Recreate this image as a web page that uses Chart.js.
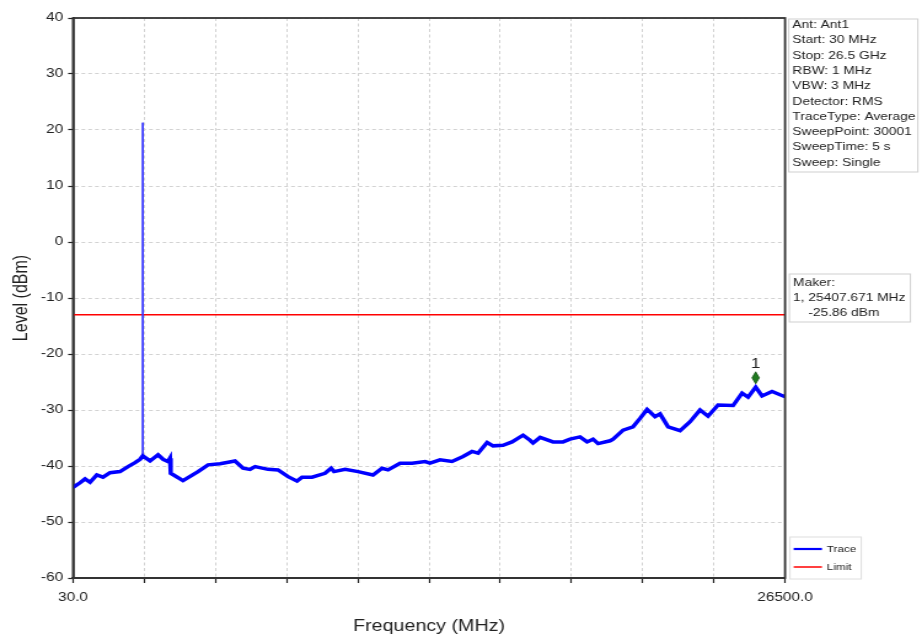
<!DOCTYPE html>
<html>
<head>
<meta charset="utf-8">
<script src="https://cdn.jsdelivr.net/npm/chart.js@4.4.1/dist/chart.umd.min.js"></script>
<style>
  html, body { margin: 0; padding: 0; background: #fff; }
  #chart { display: block; }
</style>
</head>
<body>
<canvas id="chart" width="750" height="636" style="width:922px;height:636px"></canvas>
<script>
// the reference is stretched sideways, so draw on a narrower canvas and let css widen it
const traceFreq = [30, 67, 290, 476, 662, 911, 1145, 1406, 1777, 2075, 2335, 2521, 2621, 2893, 3190, 3376, 3562, 3636, 3662,
  4119, 4677, 5049, 5495, 6053, 6350, 6610, 6796, 7280, 7651, 8023, 8358, 8544, 8915, 9399, 9622, 9733, 10142, 10625,
  11183, 11518, 11741, 12187, 12633, 13116, 13302, 13674, 14120, 14529, 14864, 15087, 15422, 15645, 16016, 16351, 16760,
  17020, 17131, 17392, 17875, 18247, 18507, 18879, 19139, 19362, 19548, 19994, 20106, 20477, 20849, 21110, 21370, 21667,
  21853, 22151, 22597, 22969, 23340, 23637, 24009, 24567, 24901, 25124, 25408, 25645, 26017, 26426, 26500]
const traceLevel = [-43.7, -43.7, -43.0, -42.3, -42.9, -41.6, -42.0, -41.2, -41.0, -40.1, -39.4, -38.8, -38.2, -39.1, -38.0, -38.8, -39.2, -38.6, -41.3,
  -42.6, -41.0, -39.8, -39.6, -39.1, -40.4, -40.6, -40.1, -40.6, -40.7, -41.9, -42.7, -42.0, -42.0, -41.3, -40.4, -41.0, -40.6, -41.0,
  -41.6, -40.4, -40.7, -39.5, -39.5, -39.2, -39.5, -38.9, -39.2, -38.3, -37.4, -37.7, -35.8, -36.4, -36.3, -35.7, -34.5,
  -35.4, -35.9, -34.9, -35.7, -35.7, -35.2, -34.8, -35.7, -35.2, -36.0, -35.5, -35.2, -33.6, -33.0, -31.5, -29.9, -31.2,
  -30.7, -33.0, -33.7, -32.1, -30.0, -31.1, -29.1, -29.2, -27.0, -27.7, -25.9, -27.5, -26.7, -27.5, -27.6]
const spikeFreq = [2615, 2621, 2627]
const spikeLevel = [-38.2, 21.3, -38.2]
const limitFreq = [30, 26500]
const limitLevel = [-13, -13]
const markerName = ['1']
const markerFreq = [25407.671]
const markerLevel = [-25.86]
const freqTicks = [30, 2677, 5324, 7971, 10618, 13265, 15912, 18559, 21206, 23853, 26500]
const infoLines = ['Ant: Ant1', 'Start: 30 MHz', 'Stop: 26.5 GHz', 'RBW: 1 MHz', 'VBW: 3 MHz', 'Detector: RMS',
  'TraceType: Average', 'SweepPoint: 30001', 'SweepTime: 5 s', 'Sweep: Single']
const makerLines = ['Maker:', '1, ' + markerFreq[0].toFixed(3) + ' MHz', '    ' + markerLevel[0].toFixed(2) + ' dBm']
const legendNames = ['Trace', 'Limit']
const legendColors = ['#0000ff', '#ff0000']

const FONT = '"Liberation Sans", Arial, sans-serif'
const pts = (xs, ys) => xs.map((x, i) => ({x: x, y: ys[i]}))

function textBox(ctx, left, top, w, h, lines, y0, step, size) {
  ctx.fillStyle = '#fff'
  ctx.fillRect(left, top, w, h)
  ctx.strokeStyle = '#cfcfcf'
  ctx.lineWidth = 1
  ctx.strokeRect(left, top, w, h)
  ctx.fillStyle = '#222'
  ctx.font = size + 'px ' + FONT
  ctx.textAlign = 'left'
  ctx.textBaseline = 'middle'
  lines.forEach((t, i) => ctx.fillText(t, left + 3, y0 + i * step))
}

const sidePanel = {
  id: 'sidePanel',
  afterDraw(chart) {
    const ctx = chart.ctx, a = chart.chartArea
    const xs = chart.scales.x, ys = chart.scales.y
    ctx.save()
    // frame round the plot
    ctx.strokeStyle = '#333'
    ctx.lineWidth = 1.8
    ctx.strokeRect(a.left, a.top, a.right - a.left, a.bottom - a.top)

    // marker diamond, sits a little above the point
    const mx = xs.getPixelForValue(markerFreq[0])
    const my = ys.getPixelForValue(markerLevel[0]) - 9
    ctx.beginPath()
    ctx.moveTo(mx, my - 6)
    ctx.lineTo(mx + 3, my)
    ctx.lineTo(mx, my + 6)
    ctx.lineTo(mx - 3, my)
    ctx.closePath()
    ctx.fillStyle = '#1f7a1f'
    ctx.fill()
    ctx.strokeStyle = '#145214'
    ctx.lineWidth = 0.8
    ctx.stroke()
    ctx.fillStyle = '#222'
    ctx.font = '14px ' + FONT
    ctx.textAlign = 'center'
    ctx.textBaseline = 'middle'
    ctx.fillText(markerName[0], mx, my - 14)

    // boxes on the right
    const bx = a.right + 3
    textBox(ctx, bx, 19, 105, 153, infoLines, 25, 15.3, 11.2)
    textBox(ctx, bx + 0.5, 274, 98.5, 48, makerLines, 283, 15, 11.2)

    // legend
    ctx.fillStyle = '#fff'
    ctx.fillRect(bx + 1, 537, 58, 42)
    ctx.strokeStyle = '#dedede'
    ctx.lineWidth = 1
    ctx.strokeRect(bx + 1, 537, 58, 42)
    ctx.font = '9.5px ' + FONT
    ctx.textAlign = 'left'
    legendNames.forEach((n, i) => {
      const ly = 549 + i * 18
      ctx.strokeStyle = legendColors[i]
      ctx.lineWidth = i === 0 ? 2.2 : 1.5
      ctx.beginPath()
      ctx.moveTo(bx + 4, ly)
      ctx.lineTo(bx + 27, ly)
      ctx.stroke()
      ctx.fillStyle = '#222'
      ctx.fillText(n, bx + 31, ly)
    })
    ctx.restore()
  }
}

const ctx = document.getElementById('chart').getContext('2d')
const chart = new Chart(ctx, {
  type: 'line',
  data: {
    datasets: [
      {label: 'Trace', data: pts(traceFreq, traceLevel), borderColor: '#0000ff', borderWidth: 3.5, pointRadius: 0, tension: 0},
      {label: 'Spike', data: pts(spikeFreq, spikeLevel), borderColor: '#3a3aff', borderWidth: 0.9, pointRadius: 0, tension: 0},
      {label: 'Limit', data: pts(limitFreq, limitLevel), borderColor: '#ff0000', borderWidth: 1.5, pointRadius: 0, tension: 0}
    ]
  },
  options: {
    responsive: false,
    animation: false,
    layout: {padding: {top: 18, right: 111.4, left: 0, bottom: 0}},
    plugins: {legend: {display: false}, tooltip: {enabled: false}},
    scales: {
      x: {
        type: 'linear',
        min: 30,
        max: 26500,
        afterBuildTicks: s => { s.ticks = freqTicks.map(v => ({value: v})) },
        afterFit: s => { s.height = 58 },
        ticks: {
          autoSkip: false,
          maxRotation: 0,
          padding: 7,
          color: '#222',
          font: {family: FONT, size: 12.5},
          callback: (v, i, t) => (i === 0 || i === t.length - 1) ? Number(v).toFixed(1) : ''
        },
        grid: {color: '#d2d2d2', lineWidth: 1, tickColor: '#222', tickLength: 5, tickWidth: 1.2, tickBorderDash: []},
        border: {display: true, color: '#333', width: 2, dash: [3, 2.5]},
        title: {display: true, text: 'Frequency (MHz)', color: '#222', font: {family: FONT, size: 16}, padding: {top: 0, bottom: 0}}
      },
      y: {
        min: -60,
        max: 40,
        afterFit: s => { s.width = 59.4 },
        ticks: {stepSize: 10, padding: 4, color: '#222', font: {family: FONT, size: 12.5}},
        grid: {color: '#d2d2d2', lineWidth: 1, tickColor: '#222', tickLength: 4, tickWidth: 1.2, tickBorderDash: []},
        border: {display: true, color: '#333', width: 1.8, dash: [3, 2.5]},
        title: {display: true, text: 'Level (dBm)', color: '#222', font: {family: FONT, size: 16}, padding: {top: 8, bottom: 0}}
      }
    }
  },
  plugins: [sidePanel]
})
</script>
</body>
</html>
